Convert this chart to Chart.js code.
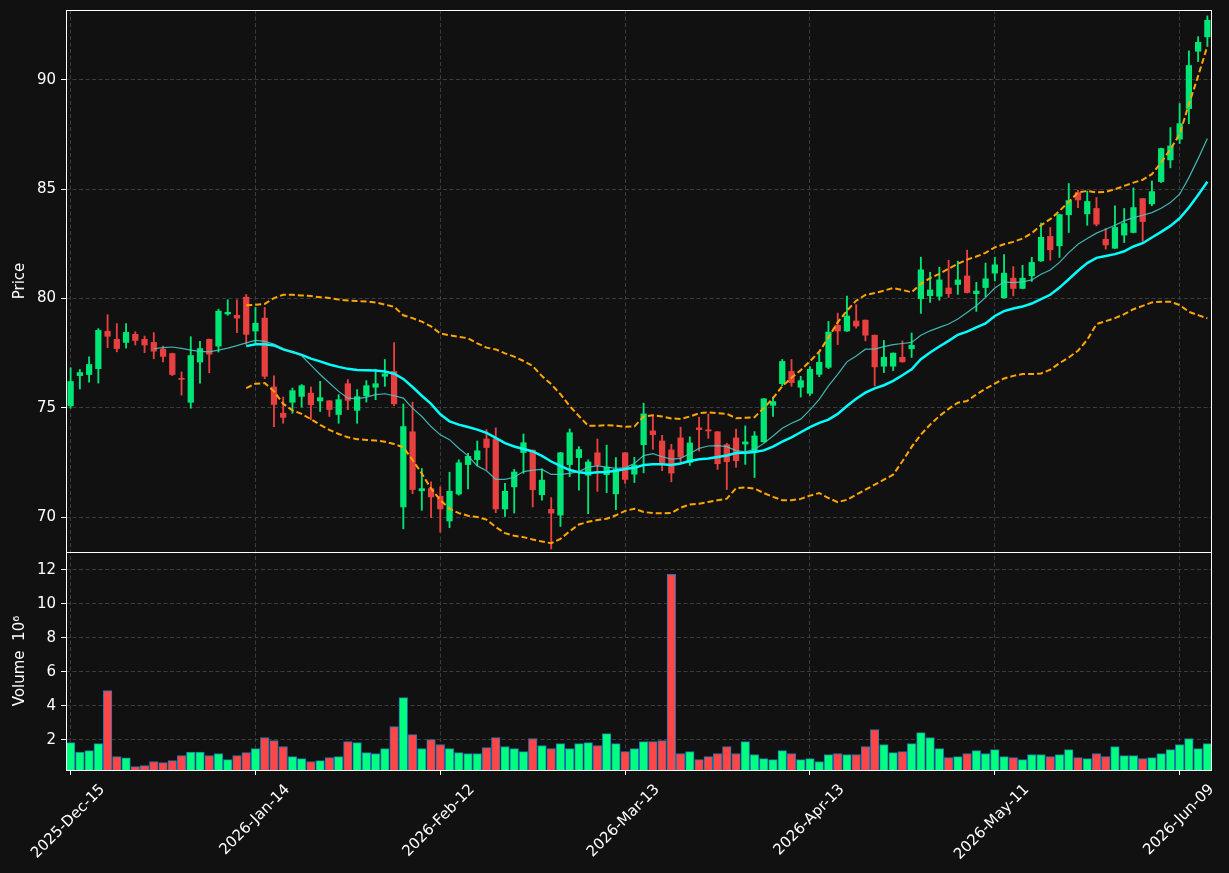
<!DOCTYPE html>
<html>
<head>
<meta charset="utf-8">
<script src="https://cdn.jsdelivr.net/npm/chart.js@4.4.1/dist/chart.umd.min.js"></script>
<style>
  html, body { margin: 0; padding: 0; background: #111111; }
  #wrap { width: 1229px; height: 873px; position: relative; }
</style>
</head>
<body>
<div id="wrap"><canvas id="c" width="1229" height="873"></canvas></div>
<script>
const dates = [
 "2025-Dec-15","2025-Dec-16","2025-Dec-17","2025-Dec-18","2025-Dec-19","2025-Dec-22","2025-Dec-23","2025-Dec-24","2025-Dec-26","2025-Dec-29","2025-Dec-30","2025-Dec-31",
 "2026-Jan-02","2026-Jan-05","2026-Jan-06","2026-Jan-07","2026-Jan-08","2026-Jan-09","2026-Jan-12","2026-Jan-13","2026-Jan-14","2026-Jan-15","2026-Jan-16","2026-Jan-20","2026-Jan-21","2026-Jan-22","2026-Jan-23","2026-Jan-26","2026-Jan-27","2026-Jan-28","2026-Jan-29","2026-Jan-30",
 "2026-Feb-02","2026-Feb-03","2026-Feb-04","2026-Feb-05","2026-Feb-06","2026-Feb-09","2026-Feb-10","2026-Feb-11","2026-Feb-12","2026-Feb-13","2026-Feb-17","2026-Feb-18","2026-Feb-19","2026-Feb-20","2026-Feb-23","2026-Feb-24","2026-Feb-25","2026-Feb-26","2026-Feb-27",
 "2026-Mar-02","2026-Mar-03","2026-Mar-04","2026-Mar-05","2026-Mar-06","2026-Mar-09","2026-Mar-10","2026-Mar-11","2026-Mar-12","2026-Mar-13","2026-Mar-16","2026-Mar-17","2026-Mar-18","2026-Mar-19","2026-Mar-20","2026-Mar-23","2026-Mar-24","2026-Mar-25","2026-Mar-26","2026-Mar-27","2026-Mar-30","2026-Mar-31",
 "2026-Apr-01","2026-Apr-02","2026-Apr-06","2026-Apr-07","2026-Apr-08","2026-Apr-09","2026-Apr-10","2026-Apr-13","2026-Apr-14","2026-Apr-15","2026-Apr-16","2026-Apr-17","2026-Apr-20","2026-Apr-21","2026-Apr-22","2026-Apr-23","2026-Apr-24","2026-Apr-27","2026-Apr-28","2026-Apr-29","2026-Apr-30",
 "2026-May-01","2026-May-04","2026-May-05","2026-May-06","2026-May-07","2026-May-08","2026-May-11","2026-May-12","2026-May-13","2026-May-14","2026-May-15","2026-May-18","2026-May-19","2026-May-20","2026-May-21","2026-May-22","2026-May-26","2026-May-27","2026-May-28","2026-May-29",
 "2026-Jun-01","2026-Jun-02","2026-Jun-03","2026-Jun-04","2026-Jun-05","2026-Jun-08","2026-Jun-09","2026-Jun-10","2026-Jun-11","2026-Jun-12"
];

const openP = [
 75.09,76.47,76.52,76.79,78.50,78.13,77.99,78.36,78.13,77.99,
 77.68,77.48,76.34,75.25,77.09,78.13,77.82,79.29,79.23,80.06,
 78.51,79.10,75.95,74.75,75.25,75.52,75.67,75.31,75.32,74.69,
 76.10,74.88,75.55,75.94,76.44,76.66,70.46,73.90,71.20,71.30,
 70.95,69.82,71.05,72.40,72.63,73.57,73.58,70.37,71.38,72.95,
 73.06,71.02,70.35,70.09,72.40,72.72,71.91,72.94,71.94,71.06,
 72.94,71.96,73.31,73.94,73.48,73.07,73.62,72.50,74.08,73.99,
 73.90,73.31,73.62,73.34,72.99,73.44,75.11,76.10,76.66,75.94,
 75.66,76.53,76.85,78.78,78.51,78.97,79.01,78.32,76.90,76.90,
 77.31,77.70,79.99,80.13,80.10,80.48,80.64,81.03,80.22,80.50,
 81.16,80.03,80.93,80.46,81.04,81.72,82.84,82.41,83.83,84.85,
 83.87,84.12,82.71,82.30,82.90,83.02,84.57,84.33,85.35,86.34,
 87.29,88.69,91.31,91.97
];
const highP = [
 76.83,76.75,77.33,78.62,79.26,78.85,78.85,78.48,78.28,78.44,
 77.82,77.50,76.64,78.25,78.04,78.15,79.51,79.94,79.94,80.18,
 79.59,79.59,76.46,75.49,75.90,76.06,75.95,76.21,75.33,75.60,
 76.29,75.83,76.24,76.75,77.21,77.98,75.17,75.26,72.22,71.61,
 71.38,72.05,72.62,72.92,73.48,74.00,74.08,71.54,72.18,73.80,
 73.07,72.20,70.89,72.96,74.03,73.22,72.62,73.57,73.29,72.72,
 72.95,72.73,75.21,74.63,73.74,73.33,74.11,73.67,74.57,74.71,
 73.91,73.37,74.02,74.17,73.91,75.42,75.49,77.21,77.21,76.44,
 76.88,77.48,78.95,79.33,80.11,79.72,79.02,78.33,78.08,77.51,
 78.06,78.42,81.89,81.20,81.43,81.75,81.71,82.21,80.74,81.62,
 81.88,82.01,81.46,81.52,81.88,83.45,83.25,83.86,85.26,84.95,
 84.91,84.62,83.20,84.24,84.12,85.06,84.58,85.38,86.88,87.82,
 88.92,91.33,91.98,92.93
];
const lowP = [
 74.98,75.86,76.17,76.13,77.75,77.56,77.73,77.87,77.52,77.24,
 77.10,76.47,75.58,74.98,76.13,76.60,77.55,79.23,78.44,77.90,
 77.98,76.33,74.14,74.29,74.75,75.03,74.45,74.83,74.60,74.29,
 74.91,74.29,75.26,75.37,75.98,75.09,69.46,71.07,70.31,69.97,
 69.31,69.51,71.00,71.29,72.34,72.18,70.20,70.03,70.18,72.00,
 70.46,70.77,68.54,69.57,71.85,71.23,70.15,71.17,71.12,70.34,
 71.54,71.58,72.02,73.10,72.12,71.61,72.48,72.36,73.02,73.60,
 72.18,71.26,72.27,72.41,71.81,73.42,74.60,76.01,75.98,75.49,
 75.57,76.42,76.79,77.89,78.49,78.64,78.06,76.00,76.61,76.70,
 77.08,77.30,79.32,79.82,79.92,80.05,80.19,80.25,79.41,80.08,
 80.80,80.02,80.12,80.44,80.78,81.70,81.75,81.88,83.02,84.16,
 83.35,83.32,82.26,82.28,82.56,83.00,82.61,84.24,85.30,85.98,
 87.09,88.00,90.84,91.55
];
const closeP = [
 76.20,76.61,76.98,78.54,78.27,77.71,78.45,78.08,77.87,77.59,
 77.35,76.52,76.30,77.39,77.71,77.45,79.42,79.37,79.10,78.36,
 78.87,76.44,75.15,74.56,75.78,76.01,75.14,75.46,74.92,75.37,
 75.34,75.51,76.01,76.10,76.55,75.18,74.14,71.26,71.30,70.92,
 70.37,71.18,72.48,72.78,73.03,73.18,70.37,71.18,72.06,73.40,
 71.25,71.69,70.18,72.94,73.86,73.09,72.52,72.37,72.28,72.18,
 71.72,72.38,74.72,73.77,72.45,72.01,72.75,73.39,74.00,73.94,
 72.44,72.53,72.58,73.44,73.71,75.41,75.28,77.12,76.15,76.24,
 76.76,77.08,78.46,78.51,79.20,78.74,78.32,76.87,77.31,77.50,
 77.10,77.86,81.31,80.39,80.85,80.22,80.85,80.27,80.34,80.90,
 81.54,81.16,80.46,80.93,81.65,82.80,82.23,83.84,84.48,84.51,
 84.44,83.40,82.45,83.25,83.43,84.16,83.52,84.89,86.86,86.98,
 88.00,90.66,91.72,92.73
];
// volume in millions
const volume = [
 1.84,1.29,1.37,1.78,4.90,1.02,0.94,0.43,0.49,0.73,
 0.67,0.78,1.08,1.29,1.29,1.08,1.20,0.84,1.08,1.25,
 1.49,2.14,1.96,1.61,1.02,0.90,0.73,0.78,0.96,1.02,
 1.90,1.84,1.25,1.20,1.49,2.78,4.49,2.31,1.49,2.02,
 1.73,1.49,1.25,1.20,1.20,1.55,2.14,1.61,1.49,1.31,
 2.08,1.67,1.49,1.78,1.49,1.78,1.84,1.67,2.37,1.78,
 1.31,1.49,1.90,1.90,1.96,11.73,1.20,1.31,0.84,1.02,
 1.20,1.61,1.20,1.90,1.14,0.90,0.84,1.37,1.20,0.84,
 0.90,0.73,1.14,1.20,1.14,1.14,1.61,2.61,1.73,1.25,
 1.31,1.78,2.43,2.14,1.49,0.96,1.02,1.20,1.37,1.20,
 1.43,1.02,0.96,0.84,1.14,1.14,1.02,1.14,1.43,0.96,
 0.90,1.20,1.02,1.61,1.08,1.08,0.90,0.96,1.20,1.43,
 1.73,2.08,1.49,1.78
];
// 10-period moving average (thin line), starts at index 9
const ma10Start = 9;
const ma10 = [
 77.70,77.75,77.78,77.72,77.64,77.58,77.56,77.64,77.73,77.84,77.97,
 78.08,78.04,77.91,77.71,77.55,77.38,76.95,76.52,76.13,75.75,
 75.44,75.41,75.49,75.60,75.64,75.55,75.44,74.98,74.60,74.14,
 73.76,73.54,73.15,72.80,72.34,72.12,71.72,71.72,71.82,72.08,
 72.15,72.18,71.95,71.95,72.00,72.08,72.28,72.34,72.28,72.23,
 72.25,72.45,72.81,72.90,72.76,72.65,72.68,72.91,73.14,73.25,
 73.27,73.22,73.04,72.98,73.10,73.37,73.71,74.06,74.29,74.48,
 74.90,75.38,76.00,76.53,77.10,77.37,77.68,77.68,77.80,77.89,
 77.94,77.99,78.32,78.52,78.68,78.83,79.06,79.36,79.67,80.05,
 80.48,80.76,80.73,80.76,80.85,81.11,81.30,81.65,82.10,82.48,
 82.74,82.99,83.17,83.35,83.55,83.70,83.81,83.93,84.13,84.39,
 84.77,85.53,86.40,87.32
];
// 20-period moving average / Bollinger middle (thick line), starts at index 19
const bandStart = 19;
const ma20 = [
 77.82,
 77.91,77.91,77.85,77.67,77.55,77.42,77.25,77.12,76.98,76.87,
 76.78,76.73,76.72,76.70,76.66,76.56,76.32,75.95,75.55,75.18,
 74.70,74.38,74.23,74.12,74.00,73.85,73.62,73.38,73.23,73.11,
 73.00,72.80,72.54,72.34,72.15,72.05,72.00,72.05,72.06,72.12,
 72.20,72.25,72.38,72.42,72.41,72.38,72.45,72.56,72.64,72.68,
 72.75,72.82,72.93,72.94,72.98,73.05,73.22,73.45,73.65,73.88,
 74.11,74.31,74.46,74.72,75.08,75.41,75.69,75.89,76.03,76.23,
 76.49,76.76,77.22,77.53,77.80,78.06,78.34,78.48,78.68,78.86,
 79.20,79.42,79.54,79.63,79.77,79.97,80.17,80.50,80.88,81.27,
 81.62,81.86,81.94,82.03,82.16,82.38,82.53,82.79,83.05,83.32,
 83.67,84.16,84.74,85.34
];
const bbUpper = [
 79.69,
 79.71,79.75,80.02,80.17,80.17,80.14,80.11,80.06,80.02,79.95,
 79.91,79.88,79.86,79.82,79.72,79.62,79.23,79.10,78.94,78.72,
 78.40,78.31,78.25,78.18,77.95,77.75,77.67,77.49,77.34,77.14,
 76.91,76.45,76.08,75.62,75.08,74.62,74.18,74.18,74.20,74.18,
 74.13,74.14,74.60,74.66,74.60,74.51,74.49,74.60,74.75,74.79,
 74.75,74.72,74.52,74.54,74.57,74.98,75.44,75.98,76.37,76.72,
 77.13,77.56,78.22,78.91,79.44,79.90,80.16,80.25,80.36,80.48,
 80.39,80.28,80.67,80.93,81.13,81.36,81.59,81.78,81.92,82.09,
 82.34,82.48,82.59,82.74,82.99,83.35,83.63,84.01,84.42,84.85,
 84.92,84.85,84.88,85.00,85.15,85.30,85.43,85.69,86.22,86.83,
 87.52,88.89,90.18,91.55
];
const bbLower = [
 75.90,
 76.10,76.13,75.75,75.18,74.88,74.72,74.48,74.22,73.99,73.80,
 73.65,73.56,73.53,73.50,73.45,73.34,73.19,72.61,71.99,71.30,
 70.78,70.38,70.18,70.06,70.00,69.88,69.54,69.26,69.14,69.08,
 68.97,68.88,68.80,69.00,69.35,69.66,69.78,69.86,69.92,70.08,
 70.28,70.38,70.23,70.18,70.17,70.18,70.43,70.57,70.61,70.69,
 70.77,70.84,71.32,71.35,71.30,71.10,70.92,70.77,70.77,70.83,
 70.98,71.10,70.87,70.68,70.79,71.02,71.25,71.48,71.71,71.94,
 72.55,73.21,73.77,74.23,74.62,74.95,75.23,75.31,75.61,75.87,
 76.10,76.34,76.46,76.54,76.54,76.57,76.74,77.04,77.30,77.61,
 78.11,78.83,78.96,79.10,79.28,79.51,79.66,79.82,79.85,79.85,
 79.70,79.39,79.24,79.09
];

const tickIdx = [0, 20, 40, 60, 80, 100, 120];
const priceTicks = [70, 75, 80, 85, 90];
const volTicks = [2, 4, 6, 8, 10, 12];

// ---- styling ----
const BG = '#111111';
const UP = 'rgb(0,230,118)';
const DOWN = 'rgb(232,64,64)';
const VUP = 'rgb(0,255,127)';
const VDOWN = 'rgb(255,70,70)';
const GRID = '#3c3c3c';
const TXT = '#ffffff';
const FONT = 'DejaVu Sans';

const isUp = openP.map((o, i) => closeP[i] >= o);
const candleCol = isUp.map(u => u ? UP : DOWN);
const volCol = isUp.map(u => u ? VUP : VDOWN);
const pad = (arr, start) => Array(start).fill(null).concat(arr);
const noPad = s => { s.paddingTop = 0; s.paddingBottom = 0; s.paddingLeft = 0; s.paddingRight = 0; };

const frame = {
  id: 'frame',
  beforeDraw(chart) {
    const c = chart.ctx;
    c.save();
    c.fillStyle = BG;
    c.fillRect(0, 0, chart.width, chart.height);
    c.restore();
  },
  afterDraw(chart) {
    const c = chart.ctx, a = chart.chartArea;
    c.save();
    c.strokeStyle = '#ffffff';
    c.lineWidth = 1;
    ['y', 'yv'].forEach(id => {
      const s = chart.scales[id];
      c.strokeRect(Math.round(a.left) + 0.5, Math.round(s.top) + 0.5,
                   Math.round(a.right - a.left) - 1, Math.round(s.bottom - s.top));
    });
    c.restore();
  }
};

new Chart(document.getElementById('c'), {
  type: 'bar',
  data: {
    labels: dates,
    datasets: [
      { type: 'line', label: 'MA10', data: pad(ma10, ma10Start), yAxisID: 'y',
        borderColor: 'rgba(72,209,204,0.85)', borderWidth: 1.2, pointRadius: 0, tension: 0, order: 0 },
      { type: 'line', label: 'MA20', data: pad(ma20, bandStart), yAxisID: 'y',
        borderColor: '#00ffff', borderWidth: 2.5, pointRadius: 0, tension: 0, order: 0 },
      { type: 'line', label: 'Upper', data: pad(bbUpper, bandStart), yAxisID: 'y',
        borderColor: '#ffa500', borderWidth: 2, borderDash: [6, 3], pointRadius: 0, tension: 0, order: 0 },
      { type: 'line', label: 'Lower', data: pad(bbLower, bandStart), yAxisID: 'y',
        borderColor: '#ffa500', borderWidth: 2, borderDash: [6, 3], pointRadius: 0, tension: 0, order: 0 },
      { label: 'Body', data: openP.map((o, i) => [o, closeP[i]]), yAxisID: 'y',
        backgroundColor: candleCol, barThickness: 5.6, grouped: false, minBarLength: 1, order: 1 },
      { label: 'Wick', data: lowP.map((l, i) => [l, highP[i]]), yAxisID: 'y',
        backgroundColor: candleCol, barThickness: 1.2, grouped: false, order: 2 },
      { label: 'Volume', data: volume, yAxisID: 'yv',
        backgroundColor: volCol, borderColor: '#1f77b4', borderWidth: 1,
        barThickness: 8.6, grouped: false, order: 3 }
    ]
  },
  options: {
    responsive: false,
    animation: false,
    events: [],
    layout: { padding: { top: 10, right: 17, left: 0, bottom: 0 } },
    plugins: { legend: { display: false }, tooltip: { enabled: false } },
    scales: {
      x: {
        type: 'category',
        offset: true,
        grid: { offset: false, color: GRID, lineWidth: 1, tickColor: '#ffffff', tickLength: 5, tickBorderDash: [] },
        border: { display: false, dash: [4, 2.5] },
        afterBuildTicks: s => { s.ticks = tickIdx.map(v => ({ value: v })); },
        afterFit: s => { s.height = 103; noPad(s); },
        ticks: { autoSkip: false, minRotation: 45, maxRotation: 45, color: TXT,
                 font: { family: FONT, size: 15 }, padding: 6, labelOffset: 32 }
      },
      yv: {
        type: 'linear', position: 'left', stack: 'panels', stackWeight: 218,
        min: 0.23, max: 13.05,
        afterBuildTicks: s => { s.ticks = volTicks.map(v => ({ value: v })); },
        afterFit: s => { s.width = 66; noPad(s); },
        grid: { color: GRID, lineWidth: 1, tickColor: '#ffffff', tickLength: 5, tickBorderDash: [] },
        border: { display: false, dash: [4, 2.5] },
        ticks: { color: TXT, font: { family: FONT, size: 15 }, padding: 5 },
        title: { display: true, text: 'Volume  10\u2076', color: TXT, font: { family: FONT, size: 15 }, padding: { top: 11, bottom: 0 } }
      },
      y: {
        type: 'linear', position: 'left', stack: 'panels', stackWeight: 542,
        min: 68.4, max: 93.2,
        afterBuildTicks: s => { s.ticks = priceTicks.map(v => ({ value: v })); },
        afterFit: s => { s.width = 66; noPad(s); },
        grid: { color: GRID, lineWidth: 1, tickColor: '#ffffff', tickLength: 5, tickBorderDash: [] },
        border: { display: false, dash: [4, 2.5] },
        ticks: { color: TXT, font: { family: FONT, size: 15 }, padding: 5 },
        title: { display: true, text: 'Price', color: TXT, font: { family: FONT, size: 15 }, padding: { top: 11, bottom: 0 } }
      }
    }
  },
  plugins: [frame]
});
</script>
</body>
</html>
